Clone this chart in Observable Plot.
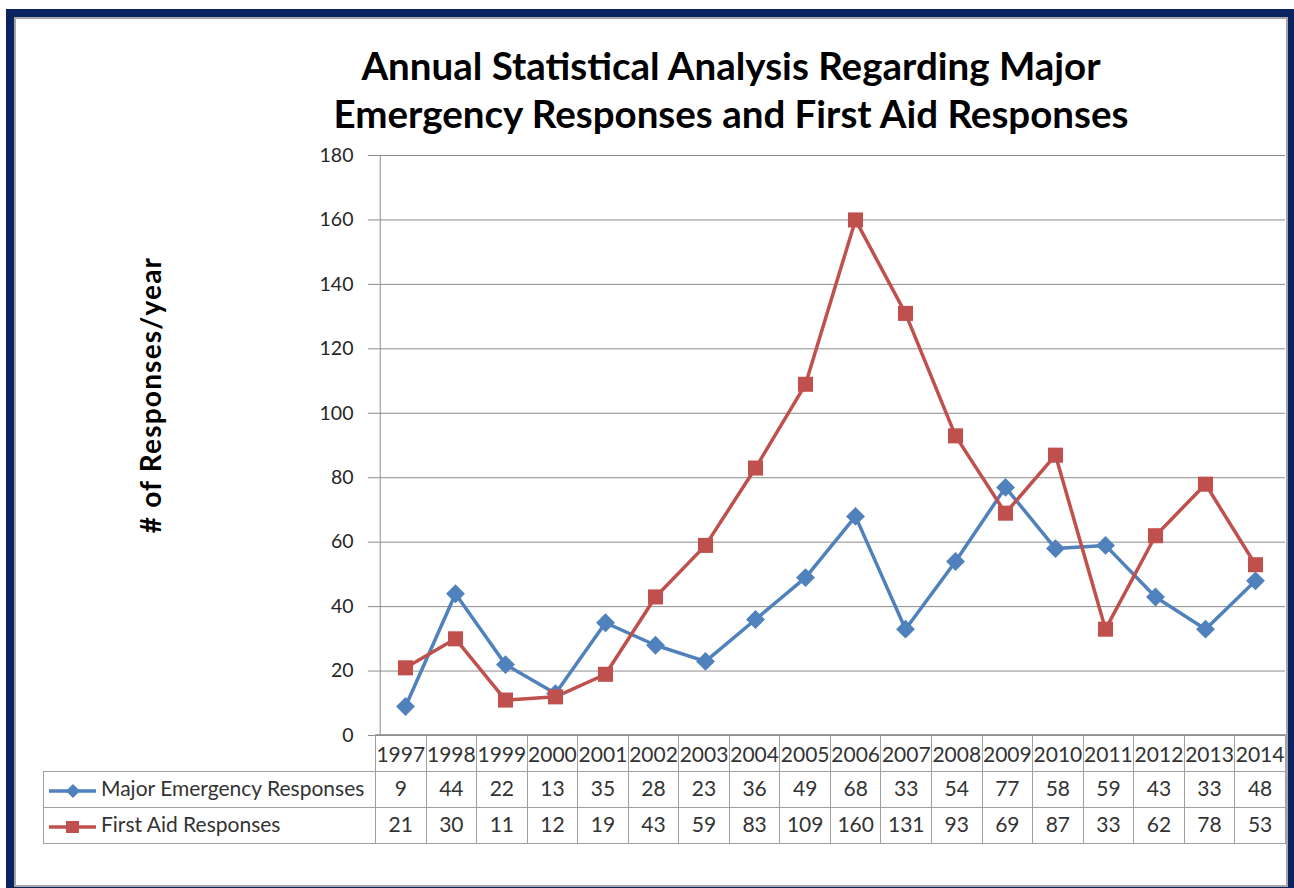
<!DOCTYPE html>
<html>
<head>
<meta charset="utf-8">
<script src="https://cdn.jsdelivr.net/npm/d3@7"></script>
<script src="https://cdn.jsdelivr.net/npm/@observablehq/plot@0.6"></script>
<style>
  html, body { margin: 0; padding: 0; background: #fff; }
  #wrap { position: relative; width: 1294px; height: 888px; overflow: hidden; background: #fff; font-family: Lato, "Open Sans", sans-serif; }
  #navy { position: absolute; left: 6px; top: 9px; width: 1300px; height: 900px; background: #0B2361; }
  #inner { position: absolute; left: 14px; top: 17px; width: 1270px; height: 866px; background: #fff; border: 2px solid #a6a6a6; }
  #title { position: absolute; left: 0; width: 1462px; top: 41px; text-align: center; font-weight: bold; font-size: 38.5px; line-height: 48px; color: #000; }
  #ylabel { position: absolute; left: 150px; top: 395px; transform: translate(-50%, -50%) rotate(-90deg); white-space: nowrap; font-weight: bold; font-size: 28px; letter-spacing: 1.2px; color: #000; }
  #chart { position: absolute; left: 0; top: 0; }
  #chart text { fill: #262626; }
  #tbl { position: absolute; left: 43px; top: 734px; border-collapse: collapse; table-layout: fixed; width: 1242px; font-size: 21px; color: #333; }
  #tbl td { border: 1px solid #a0a0a0; text-align: center; padding: 0; white-space: nowrap; overflow: visible; }
  #tbl tr.hdr td { height: 36px; }
  #tbl tr.row td { height: 31px; padding-bottom: 4px; }
  #tbl td.blank { border: none; }
  #tbl tr.row td.name { text-align: left; padding-left: 4px; }
  #tbl td.name svg { vertical-align: middle; margin-right: 4px; }
</style>
</head>
<body>
<div id="wrap">
  <div id="navy"></div>
  <div id="inner"></div>
  <div id="title">Annual Statistical Analysis Regarding Major<br>Emergency Responses and First Aid Responses</div>
  <div id="ylabel"># of Responses/year</div>
  <div id="chart"></div>
  <table id="tbl"></table>
</div>
<script>
const years = [1997,1998,1999,2000,2001,2002,2003,2004,2005,2006,2007,2008,2009,2010,2011,2012,2013,2014];
const majorEmergency = [9,44,22,13,35,28,23,36,49,68,33,54,77,58,59,43,33,48];
const firstAid = [21,30,11,12,19,43,59,83,109,160,131,93,69,87,33,62,78,53];
const seriesNames = ["Major Emergency Responses", "First Aid Responses"];
const seriesColors = ["#4F81BD", "#C0504D"];
const seriesSymbols = ["diamond2", "square"];
const yTicks = [0,20,40,60,80,100,120,140,160,180];

const data = [];
years.forEach((yr, i) => {
  data.push({year: String(yr), value: majorEmergency[i], series: seriesNames[0]});
  data.push({year: String(yr), value: firstAid[i], series: seriesNames[1]});
});

const plot = Plot.plot({
  width: 1294,
  height: 760,
  marginTop: 155,
  marginBottom: 25,
  marginLeft: 375,
  marginRight: 9,
  style: { background: "transparent", fontFamily: "Lato, 'Open Sans', sans-serif" },
  x: { type: "point", domain: years.map(String), padding: 0.5, axis: null },
  y: { domain: [0, 180], axis: null },
  color: { domain: seriesNames, range: seriesColors },
  symbol: { domain: seriesNames, range: seriesSymbols },
  marks: [
    Plot.gridY(yTicks, { stroke: "#8c8c8c", strokeOpacity: 1, strokeWidth: 1 }),
    Plot.axisY(yTicks, { tickSize: 7, tickPadding: 15, fontSize: 19.5, stroke: "#8c8c8c", label: null, tickFormat: d => String(d) }),
    Plot.ruleX([0], { x: () => years[0] + "", dx: -25.28, y1: 0, y2: 180, stroke: "#8c8c8c" }),
    Plot.line(data, { x: "year", y: "value", z: "series", stroke: "series", strokeWidth: 3.5 }),
    Plot.dot(data, { x: "year", y: "value", symbol: "series", fill: "series", r: 8.5, stroke: "none" })
  ]
});
document.getElementById("chart").appendChild(plot);

// data table
const tbl = document.getElementById("tbl");
const cg = document.createElement("colgroup");
let c0 = document.createElement("col"); c0.style.width = "332px"; cg.appendChild(c0);
years.forEach(() => { const c = document.createElement("col"); c.style.width = (910/18) + "px"; cg.appendChild(c); });
tbl.appendChild(cg);
const hdr = document.createElement("tr"); hdr.className = "hdr";
const blank = document.createElement("td"); blank.className = "blank"; hdr.appendChild(blank);
years.forEach(y => { const td = document.createElement("td"); td.textContent = y; hdr.appendChild(td); });
tbl.appendChild(hdr);
[majorEmergency, firstAid].forEach((vals, k) => {
  const tr = document.createElement("tr"); tr.className = "row";
  const nm = document.createElement("td"); nm.className = "name";
  const sym = k === 0
    ? `<rect x="20" y="4" width="10" height="10" transform="rotate(45 25 9)" fill="${seriesColors[k]}"/>`
    : `<rect x="18" y="3" width="13" height="12" fill="${seriesColors[k]}"/>`;
  nm.innerHTML = `<svg width="49" height="18"><line x1="1" x2="48" y1="9" y2="9" stroke="${seriesColors[k]}" stroke-width="3.5"/>${sym}</svg>` + seriesNames[k];
  tr.appendChild(nm);
  vals.forEach(v => { const td = document.createElement("td"); td.textContent = v; tr.appendChild(td); });
  tbl.appendChild(tr);
});
</script>
</body>
</html>
